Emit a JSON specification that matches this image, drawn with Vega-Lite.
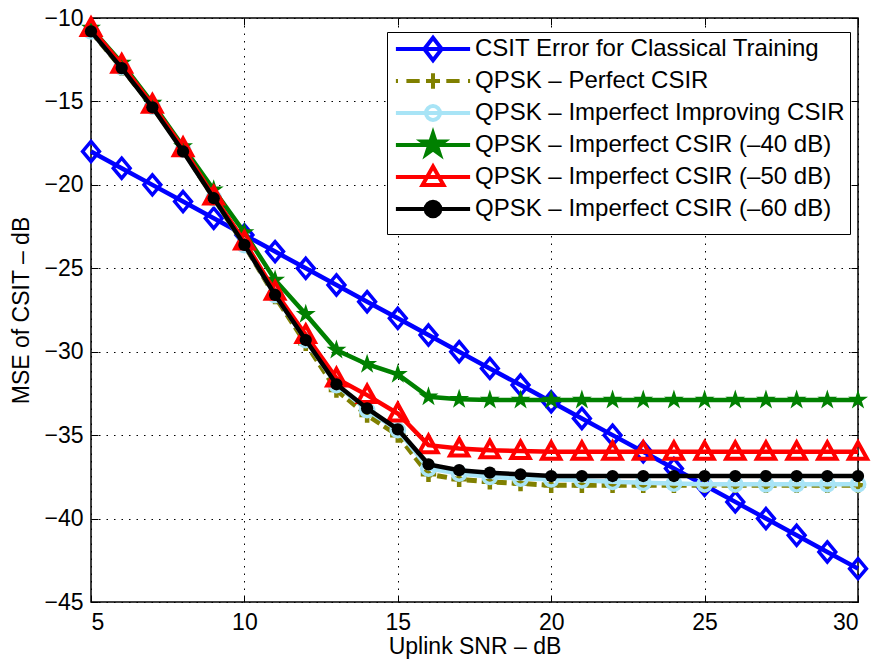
{
  "$schema": "https://vega.github.io/schema/vega-lite/v6.json",
  "width": 767,
  "height": 584,
  "autosize": "none",
  "padding": {"left": 91, "top": 18, "right": 20, "bottom": 65},
  "background": "white",
  "config": {
    "font": "Liberation Sans",
    "view": {"stroke": "black", "strokeWidth": 1.5},
    "axis": {
      "domain": false,
      "grid": false,
      "ticks": true,
      "tickColor": "black",
      "tickSize": -7,
      "tickWidth": 1,
      "labelColor": "black",
      "labelFont": "Liberation Sans",
      "labelFontSize": 23,
      "titleFont": "Liberation Sans",
      "titleFontSize": 23,
      "titleColor": "black",
      "titleFontWeight": "normal"
    }
  },
  "datasets": {
    "blue": [
      {"snr": 5, "mse": -18}, {"snr": 6, "mse": -19}, {"snr": 7, "mse": -20}, {"snr": 8, "mse": -21},
      {"snr": 9, "mse": -22}, {"snr": 10, "mse": -23}, {"snr": 11, "mse": -24}, {"snr": 12, "mse": -25},
      {"snr": 13, "mse": -26}, {"snr": 14, "mse": -27}, {"snr": 15, "mse": -28}, {"snr": 16, "mse": -29},
      {"snr": 17, "mse": -30}, {"snr": 18, "mse": -31}, {"snr": 19, "mse": -32}, {"snr": 20, "mse": -33},
      {"snr": 21, "mse": -34}, {"snr": 22, "mse": -35}, {"snr": 23, "mse": -36}, {"snr": 24, "mse": -37},
      {"snr": 25, "mse": -38}, {"snr": 26, "mse": -39}, {"snr": 27, "mse": -40}, {"snr": 28, "mse": -41},
      {"snr": 29, "mse": -42}, {"snr": 30, "mse": -43}
    ],
    "olive": [
      {"snr": 5, "mse": -10.8}, {"snr": 6, "mse": -13.0}, {"snr": 7, "mse": -15.3}, {"snr": 8, "mse": -17.9},
      {"snr": 9, "mse": -20.8}, {"snr": 10, "mse": -23.6}, {"snr": 11, "mse": -26.7}, {"snr": 12, "mse": -29.5},
      {"snr": 13, "mse": -32.3}, {"snr": 14, "mse": -33.8}, {"snr": 15, "mse": -35.0}, {"snr": 16, "mse": -37.35},
      {"snr": 17, "mse": -37.65}, {"snr": 18, "mse": -37.8}, {"snr": 19, "mse": -37.9}, {"snr": 20, "mse": -38.0},
      {"snr": 21, "mse": -38.0}, {"snr": 22, "mse": -38.0}, {"snr": 23, "mse": -38.0}, {"snr": 24, "mse": -38.0},
      {"snr": 25, "mse": -38.0}, {"snr": 26, "mse": -38.0}, {"snr": 27, "mse": -38.0}, {"snr": 28, "mse": -38.0},
      {"snr": 29, "mse": -38.0}, {"snr": 30, "mse": -38.0}
    ],
    "cyan": [
      {"snr": 5, "mse": -10.8}, {"snr": 6, "mse": -12.95}, {"snr": 7, "mse": -15.3}, {"snr": 8, "mse": -17.9},
      {"snr": 9, "mse": -20.8}, {"snr": 10, "mse": -23.6}, {"snr": 11, "mse": -26.6}, {"snr": 12, "mse": -29.3},
      {"snr": 13, "mse": -32.0}, {"snr": 14, "mse": -33.5}, {"snr": 15, "mse": -34.7}, {"snr": 16, "mse": -37.0},
      {"snr": 17, "mse": -37.3}, {"snr": 18, "mse": -37.5}, {"snr": 19, "mse": -37.6}, {"snr": 20, "mse": -37.65},
      {"snr": 21, "mse": -37.7}, {"snr": 22, "mse": -37.8}, {"snr": 23, "mse": -37.85}, {"snr": 24, "mse": -37.9},
      {"snr": 25, "mse": -37.95}, {"snr": 26, "mse": -37.95}, {"snr": 27, "mse": -37.95}, {"snr": 28, "mse": -37.95},
      {"snr": 29, "mse": -37.95}, {"snr": 30, "mse": -37.95}
    ],
    "green": [
      {"snr": 5, "mse": -10.6}, {"snr": 6, "mse": -12.7}, {"snr": 7, "mse": -15.1}, {"snr": 8, "mse": -17.7},
      {"snr": 9, "mse": -20.3}, {"snr": 10, "mse": -22.85}, {"snr": 11, "mse": -25.7}, {"snr": 12, "mse": -27.75},
      {"snr": 13, "mse": -29.9}, {"snr": 14, "mse": -30.75}, {"snr": 15, "mse": -31.35}, {"snr": 16, "mse": -32.7},
      {"snr": 17, "mse": -32.85}, {"snr": 18, "mse": -32.9}, {"snr": 19, "mse": -32.9}, {"snr": 20, "mse": -32.9},
      {"snr": 21, "mse": -32.9}, {"snr": 22, "mse": -32.9}, {"snr": 23, "mse": -32.9}, {"snr": 24, "mse": -32.9},
      {"snr": 25, "mse": -32.9}, {"snr": 26, "mse": -32.9}, {"snr": 27, "mse": -32.9}, {"snr": 28, "mse": -32.9},
      {"snr": 29, "mse": -32.9}, {"snr": 30, "mse": -32.9}
    ],
    "red": [
      {"snr": 5, "mse": -10.6}, {"snr": 6, "mse": -12.8}, {"snr": 7, "mse": -15.2}, {"snr": 8, "mse": -17.8},
      {"snr": 9, "mse": -20.7}, {"snr": 10, "mse": -23.4}, {"snr": 11, "mse": -26.4}, {"snr": 12, "mse": -29.0},
      {"snr": 13, "mse": -31.6}, {"snr": 14, "mse": -32.6}, {"snr": 15, "mse": -33.7}, {"snr": 16, "mse": -35.6},
      {"snr": 17, "mse": -35.8}, {"snr": 18, "mse": -35.9}, {"snr": 19, "mse": -35.95}, {"snr": 20, "mse": -36.0},
      {"snr": 21, "mse": -36.0}, {"snr": 22, "mse": -36.0}, {"snr": 23, "mse": -36.0}, {"snr": 24, "mse": -36.0},
      {"snr": 25, "mse": -36.0}, {"snr": 26, "mse": -36.0}, {"snr": 27, "mse": -36.0}, {"snr": 28, "mse": -36.0},
      {"snr": 29, "mse": -36.0}, {"snr": 30, "mse": -36.0}
    ],
    "black": [
      {"snr": 5, "mse": -10.8}, {"snr": 6, "mse": -13.0}, {"snr": 7, "mse": -15.35}, {"snr": 8, "mse": -18.0},
      {"snr": 9, "mse": -20.8}, {"snr": 10, "mse": -23.6}, {"snr": 11, "mse": -26.6}, {"snr": 12, "mse": -29.3},
      {"snr": 13, "mse": -31.95}, {"snr": 14, "mse": -33.4}, {"snr": 15, "mse": -34.65}, {"snr": 16, "mse": -36.75},
      {"snr": 17, "mse": -37.1}, {"snr": 18, "mse": -37.25}, {"snr": 19, "mse": -37.35}, {"snr": 20, "mse": -37.45},
      {"snr": 21, "mse": -37.45}, {"snr": 22, "mse": -37.45}, {"snr": 23, "mse": -37.45}, {"snr": 24, "mse": -37.45},
      {"snr": 25, "mse": -37.45}, {"snr": 26, "mse": -37.45}, {"snr": 27, "mse": -37.45}, {"snr": 28, "mse": -37.45},
      {"snr": 29, "mse": -37.45}, {"snr": 30, "mse": -37.45}
    ]
  },
  "encoding": {
    "x": {"field": "snr", "type": "quantitative", "scale": {"domain": [5, 30], "nice": false, "zero": false}, "axis": null},
    "y": {"field": "mse", "type": "quantitative", "scale": {"domain": [-45, -10], "nice": false, "zero": false}, "axis": null}
  },
  "layer": [
    {
      "data": {"name": "blue"},
      "mark": {"type": "line", "color": "#0000ff", "strokeWidth": 4.5},
      "encoding": {
        "x": {"field": "snr", "type": "quantitative", "scale": {"domain": [5, 30], "nice": false, "zero": false},
          "axis": {"orient": "bottom", "values": [5, 10, 15, 20, 25, 30], "grid": true, "gridColor": "black", "gridDash": [1.5, 6], "gridWidth": 1, "gridOpacity": 1, "labelPadding": 16, "title": "Uplink SNR – dB", "titlePadding": 1}},
        "y": {"field": "mse", "type": "quantitative", "scale": {"domain": [-45, -10], "nice": false, "zero": false},
          "axis": {"orient": "left", "values": [-45, -40, -35, -30, -25, -20, -15, -10], "grid": true, "gridColor": "black", "gridDash": [1.5, 6], "gridWidth": 1, "gridOpacity": 1, "labelPadding": 15, "title": "MSE of CSIT – dB", "titlePadding": 10}}
      }
    },
    {
      "data": {"name": "blue"},
      "mark": {"type": "point", "shape": "M0,-1.25L1.05,0L0,1.25L-1.05,0Z", "size": 256, "filled": false, "color": "#0000ff", "strokeWidth": 3.5, "opacity": 1},
      "encoding": {
        "x": {"field": "snr", "type": "quantitative", "scale": {"domain": [5, 30], "nice": false, "zero": false},
          "axis": {"orient": "top", "values": [5, 10, 15, 20, 25, 30], "labels": false, "title": null, "grid": false}},
        "y": {"field": "mse", "type": "quantitative", "scale": {"domain": [-45, -10], "nice": false, "zero": false},
          "axis": {"orient": "right", "values": [-45, -40, -35, -30, -25, -20, -15, -10], "labels": false, "title": null, "grid": false}}
      }
    },
    {"data": {"name": "olive"}, "mark": {"type": "line", "color": "#808000", "strokeWidth": 5, "strokeDash": [10, 5]}, "encoding": {}},
    {"data": {"name": "olive"}, "mark": {"type": "point", "shape": "M0,-1.1V1.1M-1.1,0H1.1", "size": 196, "filled": false, "color": "#808000", "strokeWidth": 4.5, "opacity": 1}, "encoding": {}},
    {"data": {"name": "cyan"}, "mark": {"type": "line", "color": "#a8e4f6", "strokeWidth": 4.5}, "encoding": {}},
    {"data": {"name": "cyan"}, "mark": {"type": "point", "shape": "circle", "size": 180, "filled": false, "color": "#a8e4f6", "strokeWidth": 3.5, "opacity": 1}, "encoding": {}},
    {"data": {"name": "green"}, "mark": {"type": "line", "color": "#008000", "strokeWidth": 4.5}, "encoding": {}},
    {"data": {"name": "green"}, "mark": {"type": "point", "shape": "M0,-1.4L0.314,-0.433L1.332,-0.433L0.509,0.165L0.823,1.133L0,0.535L-0.823,1.133L-0.509,0.165L-1.332,-0.433L-0.314,-0.433Z", "size": 225, "filled": true, "color": "#008000", "strokeWidth": 1, "opacity": 1}, "encoding": {}},
    {"data": {"name": "red"}, "mark": {"type": "line", "color": "#ff0000", "strokeWidth": 4.5}, "encoding": {}},
    {"data": {"name": "red"}, "mark": {"type": "point", "shape": "M0,-1.35L1.3,1.0L-1.3,1.0Z", "size": 196, "filled": false, "color": "#ff0000", "strokeWidth": 4, "opacity": 1}, "encoding": {}},
    {"data": {"name": "black"}, "mark": {"type": "line", "color": "#000000", "strokeWidth": 4.5}, "encoding": {}},
    {"data": {"name": "black"}, "mark": {"type": "point", "shape": "circle", "size": 150, "filled": true, "color": "#000000", "opacity": 1}, "encoding": {}},
    {
      "data": {"name": "blue"},
      "transform": [{"filter": "false"}],
      "mark": {"type": "point", "size": 196, "opacity": 1, "strokeWidth": 4},
      "encoding": {
        "shape": {"field": "series", "type": "nominal",
          "scale": {"domain": ["CSIT Error for Classical Training", "QPSK – Perfect CSIR", "QPSK – Imperfect Improving CSIR", "QPSK – Imperfect CSIR (–40 dB)", "QPSK – Imperfect CSIR (–50 dB)", "QPSK – Imperfect CSIR (–60 dB)"],
            "range": [
              "M0,-1.7M0,1.7M-5.3,0H5.3M0,-1.6L1.25,0L0,1.6L-1.25,0Z",
              "M0,-1.7M0,1.7M-5.3,0H-5M-3.8,0H-1.9M1.9,0H3.8M5,0H5.3M0,-1.1V1.1M-1,0H1",
              "M0,-1.7M0,1.7M-5.3,0H5.3M1,0A1,1,0,1,1,-1,0A1,1,0,1,1,1,0Z",
              "M0,-1.7M0,1.7M-5.3,0H5.3M0,-1.65L0.37,-0.51L1.57,-0.51L0.6,0.195L0.97,1.335L0,0.63L-0.97,1.335L-0.6,0.195L-1.57,-0.51L-0.37,-0.51Z",
              "M0,-1.7M0,1.7M-5.3,0H5.3M0,-1.5L1.5,1.15L-1.5,1.15Z",
              "M0,-1.7M0,1.7M-5.3,0H5.3M1.05,0A1.05,1.05,0,1,1,-1.05,0A1.05,1.05,0,1,1,1.05,0Z"
            ]},
          "legend": {"title": null, "orient": "none", "legendX": 296, "legendY": 14, "strokeColor": "black", "fillColor": "white", "padding": 5, "labelFont": "Liberation Sans", "labelFontSize": 24, "labelColor": "black", "labelLimit": 600, "symbolSize": 196, "symbolStrokeWidth": 4, "symbolOffset": 29, "labelOffset": 30, "rowPadding": -12}},
        "stroke": {"field": "series", "type": "nominal",
          "scale": {"domain": ["CSIT Error for Classical Training", "QPSK – Perfect CSIR", "QPSK – Imperfect Improving CSIR", "QPSK – Imperfect CSIR (–40 dB)", "QPSK – Imperfect CSIR (–50 dB)", "QPSK – Imperfect CSIR (–60 dB)"],
            "range": ["#0000ff", "#808000", "#a8e4f6", "#008000", "#ff0000", "#000000"]},
          "legend": {"title": null, "orient": "none", "legendX": 296, "legendY": 14, "strokeColor": "black", "fillColor": "white", "padding": 5, "labelFont": "Liberation Sans", "labelFontSize": 24, "labelColor": "black", "labelLimit": 600, "symbolSize": 196, "symbolStrokeWidth": 4, "symbolOffset": 29, "labelOffset": 30, "rowPadding": -12}},
        "fill": {"field": "series", "type": "nominal",
          "scale": {"domain": ["CSIT Error for Classical Training", "QPSK – Perfect CSIR", "QPSK – Imperfect Improving CSIR", "QPSK – Imperfect CSIR (–40 dB)", "QPSK – Imperfect CSIR (–50 dB)", "QPSK – Imperfect CSIR (–60 dB)"],
            "range": ["#ffffff", "#808000", "#ffffff", "#008000", "#ffffff", "#000000"]},
          "legend": {"title": null, "orient": "none", "legendX": 296, "legendY": 14, "strokeColor": "black", "fillColor": "white", "padding": 5, "labelFont": "Liberation Sans", "labelFontSize": 24, "labelColor": "black", "labelLimit": 600, "symbolSize": 196, "symbolStrokeWidth": 4, "symbolOffset": 29, "labelOffset": 30, "rowPadding": -12}}
      }
    }
  ],
  "resolve": {"axis": {"x": "independent", "y": "independent"}}
}
